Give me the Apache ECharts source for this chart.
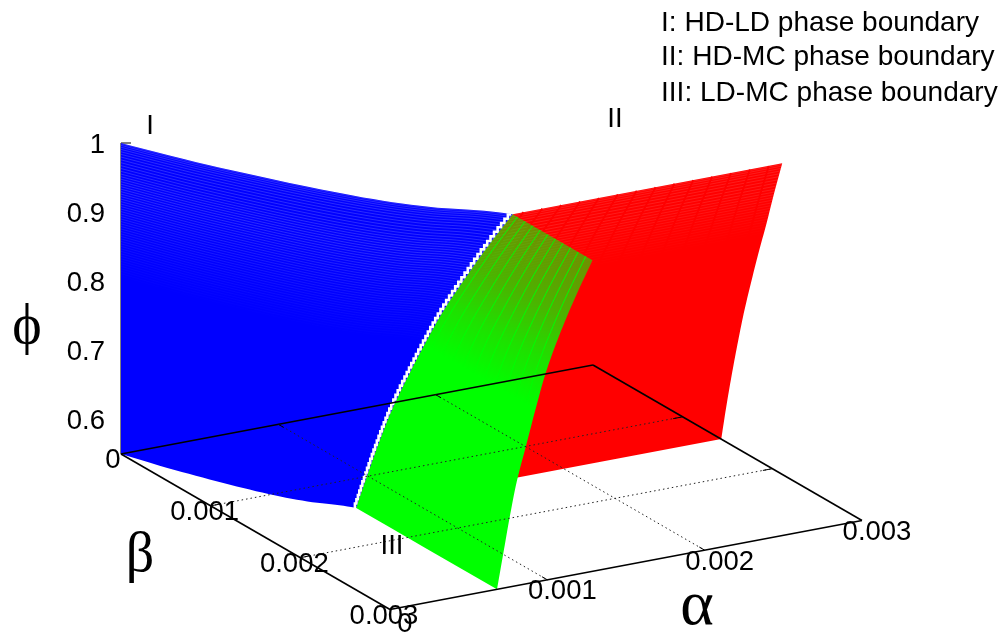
<!DOCTYPE html>
<html>
<head>
<meta charset="utf-8">
<style>html,body{margin:0;padding:0;background:#fff}#chart{width:1006px;height:639px}</style>
<script src="https://cdn.jsdelivr.net/npm/echarts@6/dist/echarts.min.js"></script>
</head>
<body>
<div id="chart"></div>
<script>
// ---- values ----
const alphaTicks = [0, 0.001, 0.002, 0.003];
const betaTicks = [0, 0.001, 0.002, 0.003];
const phiTicks = [0.6, 0.7, 0.8, 0.9, 1];
const phiLevels = [0.55, 0.6, 0.65, 0.7, 0.75, 0.8, 0.85, 0.9, 0.95, 1];
// triple line: where the three boundaries meet, at each phi level
const tripleAlpha = [0.00068, 0.00072, 0.00076, 0.000805, 0.000865, 0.000925, 0.00099, 0.001075, 0.001175, 0.001287];
const tripleBeta = [0.00143, 0.001485, 0.001545, 0.00161, 0.00168, 0.00176, 0.001845, 0.001935, 0.00202, 0.00211];
// shape of the HD-LD boundary as a share of the way from the origin to the triple line
const boundaryShareAlpha = [0, 0.15, 0.3, 0.45, 0.6, 0.75, 0.9, 1];
const boundaryShareBeta = [0, 0.22, 0.41, 0.585, 0.735, 0.85, 0.93, 1];
const legendLines = ['I: HD-LD phase boundary', 'II: HD-MC phase boundary', 'III: LD-MC phase boundary'];

// ---- orthographic view of the box ----
const ALPHA_MAX = 0.003, BETA_MAX = 0.003, PHI_MIN = 0.55, PHI_MAX = 1;
const ORIGIN = [121, 454];
const AX = [472, -89], BX = [269, 155.5], ZY = -311;
function project(a, b, p) {
  const u = a / ALPHA_MAX, v = b / BETA_MAX, w = (p - PHI_MIN) / (PHI_MAX - PHI_MIN);
  return [ORIGIN[0] + AX[0] * u + BX[0] * v, ORIGIN[1] + AX[1] * u + BX[1] * v + ZY * w];
}
// level: fractional index into an array; smooth reading between the read values
function at(arr, level) {
  const n = arr.length - 1, i = Math.min(Math.floor(level), n - 1), f = level - i;
  const p0 = arr[Math.max(i - 1, 0)], p1 = arr[i], p2 = arr[i + 1], p3 = arr[Math.min(i + 2, n)];
  return 0.5 * (2 * p1 + (p2 - p0) * f + (2 * p0 - 5 * p1 + 4 * p2 - p3) * f * f + (3 * p1 - p0 - 3 * p2 + p3) * f * f * f);
}
function pointBlue(level, t) {
  const l = t * (boundaryShareAlpha.length - 1);
  return [at(tripleAlpha, level) * at(boundaryShareAlpha, l), at(tripleBeta, level) * at(boundaryShareBeta, l), at(phiLevels, level)];
}
function pointRed(level, t) {
  const a = at(tripleAlpha, level);
  return [a + (ALPHA_MAX - a) * t, at(tripleBeta, level), at(phiLevels, level)];
}
function pointGreen(level, t) {
  const b = at(tripleBeta, level);
  return [at(tripleAlpha, level), b + (BETA_MAX - b) * t, at(phiLevels, level)];
}
const LAST = phiLevels.length - 1;
const LEVEL_STEP = 0.125;
function levelOfPhi(p) {
  for (let i = 0; i < LAST; i++) if (p <= phiLevels[i + 1]) return i + (p - phiLevels[i]) / (phiLevels[i + 1] - phiLevels[i]);
  return LAST;
}
function toCoord(api, p) { return api.coord(project(p[0], p[1], p[2])); }

function outline(api, fn, tSteps) {
  const pts = [];
  for (let l = 0; l <= LAST; l += LEVEL_STEP) pts.push(toCoord(api, fn(l, 0)));
  for (let k = 1; k <= tSteps; k++) pts.push(toCoord(api, fn(LAST, k / tSteps)));
  for (let l = LAST - LEVEL_STEP; l >= 0; l -= LEVEL_STEP) pts.push(toCoord(api, fn(l, 1)));
  for (let k = tSteps - 1; k >= 1; k--) pts.push(toCoord(api, fn(0, k / tSteps)));
  return pts;
}
function isoPhi(api, fn, level, tSteps) {
  const pts = [];
  for (let k = 0; k <= tSteps; k++) pts.push(toCoord(api, fn(level, k / tSteps)));
  return pts;
}
function isoT(api, fn, t, fromLevel) {
  const pts = [];
  for (let l = fromLevel; l < LAST; l += LEVEL_STEP) pts.push(toCoord(api, fn(l, t)));
  pts.push(toCoord(api, fn(LAST, t)));
  return pts;
}
function hatch(api, fn, tSteps, color, startPhi, maxOpacity, phiStep) {
  const out = [];
  for (let p = startPhi; p < 1; p += phiStep) {
    const o = maxOpacity * Math.min(1, (p - startPhi) / (1 - startPhi) * 1.5);
    out.push({ type: 'polyline', shape: { points: isoPhi(api, fn, levelOfPhi(p), tSteps) },
      style: { fill: null, stroke: color, lineWidth: 1, opacity: o }, silent: true });
  }
  return out;
}
// ---- surfaces ----
function renderRed(params, api) {
  const kids = [{ type: 'polygon', shape: { points: outline(api, pointRed, 4) }, style: { fill: '#ff0000' } }];
  kids.push(...hatch(api, pointRed, 4, '#ffffff', 0.88, 0.11, 0.0045));
  for (let t = 0.04; t < 1; t += 0.07) {
    kids.push({ type: 'polyline', shape: { points: isoT(api, pointRed, t, levelOfPhi(0.87)) },
      style: { fill: null, stroke: '#ff0000', lineWidth: 1.8 } });
  }
  return { type: 'group', children: kids };
}
function renderGreen(params, api) {
  const s = toCoord(api, pointGreen(levelOfPhi(0.8), 0));
  const e = toCoord(api, pointGreen(LAST, 0));
  // gradient runs across the lines of constant phi
  const d = [BX[1], -BX[0]], len = Math.hypot(d[0], d[1]);
  const proj = ((e[0] - s[0]) * d[0] + (e[1] - s[1]) * d[1]) / (len * len);
  const end = [s[0] + d[0] * proj, s[1] + d[1] * proj];
  const fill = new echarts.graphic.LinearGradient(s[0], s[1], end[0], end[1], [
    { offset: 0, color: 'rgba(0,255,0,1)' },
    { offset: 0.3, color: 'rgba(0,255,0,0.88)' },
    { offset: 0.6, color: 'rgba(0,255,0,0.7)' },
    { offset: 1, color: 'rgba(0,255,0,0.56)' }
  ], true);
  const kids = [{ type: 'polygon', shape: { points: outline(api, pointGreen, 4) }, style: { fill: fill } }];
  for (let t = 0.06; t < 1; t += 0.095) {
    kids.push({ type: 'polyline', shape: { points: isoT(api, pointGreen, t, levelOfPhi(0.8)) },
      style: { fill: null, stroke: '#00ff00', lineWidth: 1 } });
  }
  return { type: 'group', children: kids };
}
function renderBlue(params, api) {
  const kids = [{ type: 'polygon', shape: { points: outline(api, pointBlue, 40) }, style: { fill: '#0000ff' } }];
  kids.push(...hatch(api, pointBlue, 40, '#ffffff', 0.8, 0.17, 0.0036));
  // white stepped seam along the triple line
  const seam = [];
  let prev = null;
  for (let l = 0; l <= LAST; l += 0.02) {
    const c = toCoord(api, pointBlue(l, 1));
    if (!prev) { seam.push([c[0] - 1.3, c[1]]); prev = c; continue; }
    if (prev[1] - c[1] >= 4) {
      seam.push([prev[0] - 1.3, c[1]]);
      seam.push([c[0] - 1.3, c[1]]);
      prev = c;
    }
  }
  kids.push({ type: 'polyline', shape: { points: seam }, style: { fill: null, stroke: '#ffffff', lineWidth: 2.6 } });
  return { type: 'group', children: kids };
}
function renderSegment(params, api) {
  const a = api.coord([api.value(0), api.value(1)]), b = api.coord([api.value(2), api.value(3)]);
  const kind = api.value(4);
  return { type: 'line', shape: { x1: a[0], y1: a[1], x2: b[0], y2: b[1] },
    style: kind === 0 ? { stroke: '#000', lineWidth: 1.6 }
      : kind === 1 ? { stroke: '#222', lineWidth: 1, lineDash: [1.5, 3] }
      : { stroke: '#000', lineWidth: 1 } };
}
// ---- box lines, grid, ticks ----
function seg(p, q, kind) { const a = project(...p), b = project(...q); return [a[0], a[1], b[0], b[1], kind]; }
const TICK = 0.02;
const segments = [
  seg([0, 0, PHI_MIN], [ALPHA_MAX, 0, PHI_MIN], 0),
  seg([ALPHA_MAX, 0, PHI_MIN], [ALPHA_MAX, BETA_MAX, PHI_MIN], 0),
  seg([ALPHA_MAX, BETA_MAX, PHI_MIN], [0, BETA_MAX, PHI_MIN], 0),
  seg([0, BETA_MAX, PHI_MIN], [0, 0, PHI_MIN], 0)
];
alphaTicks.slice(1, 3).forEach(a => {
  segments.push(seg([a, 0, PHI_MIN], [a, BETA_MAX, PHI_MIN], 1));
  segments.push(seg([a, 0, PHI_MIN], [a, BETA_MAX * TICK, PHI_MIN], 2));
  segments.push(seg([a, BETA_MAX, PHI_MIN], [a, BETA_MAX * (1 - TICK), PHI_MIN], 2));
});
betaTicks.slice(1, 3).forEach(b => {
  segments.push(seg([0, b, PHI_MIN], [ALPHA_MAX, b, PHI_MIN], 1));
  segments.push(seg([0, b, PHI_MIN], [ALPHA_MAX * TICK, b, PHI_MIN], 2));
  segments.push(seg([ALPHA_MAX, b, PHI_MIN], [ALPHA_MAX * (1 - TICK), b, PHI_MIN], 2));
});
const zLine = [seg([0, 0, PHI_MIN], [0, 0, PHI_MAX], 2), seg([0, 0, PHI_MAX], [ALPHA_MAX * 0.02, 0, PHI_MAX], 2)];
// the phi=1 tick runs flat in the picture
zLine[1][2] = zLine[1][0] + 10; zLine[1][3] = zLine[1][1];

// ---- tick labels: [x, y, text, dx, dy, align] ----
const tickLabels = [];
phiTicks.forEach(p => {
  const c = project(0, 0, p);
  tickLabels.push([c[0], c[1], String(p), -16, 2, 'right']);
});
alphaTicks.forEach(a => {
  const c = project(a, BETA_MAX, PHI_MIN);
  tickLabels.push([c[0], c[1], String(a), 15, a === 0 ? 15 : 12, 'center']);
});
betaTicks.forEach(b => {
  const c = project(0, b, PHI_MIN);
  tickLabels.push([c[0], c[1], String(b), b === 0 ? -8 : -6, b === 0 ? 6 : 6.5, 'center']);
});
function renderLabel(params, api) {
  const d = tickLabels[params.dataIndex];
  const c = api.coord([d[0], d[1]]);
  return { type: 'text', x: c[0] + d[3], y: c[1] + d[4],
    style: { text: d[2], fill: '#000', font: '27.5px "Liberation Sans", Arial, sans-serif', textAlign: d[5], textVerticalAlign: 'middle' } };
}
function txt(x, y, s, font, align) {
  return { type: 'text', x: x, y: y, z: 20,
    style: { text: s, fill: '#000', font: font, textAlign: align || 'left', textVerticalAlign: 'middle' } };
}
const SANS = '28.05px "Liberation Sans", Arial, sans-serif';
const LBL = '27.5px "Liberation Sans", Arial, sans-serif';
const GREEK = '56px "Liberation Serif", "DejaVu Serif", serif';
const ALPHA_FONT = '64px "Liberation Serif", "DejaVu Serif", serif';
const chart = echarts.init(document.getElementById('chart'), null, { renderer: 'canvas' });
const one = [[0, 0]];
chart.setOption({
  animation: false,
  backgroundColor: '#ffffff',
  grid: { left: 0, right: 0, top: 0, bottom: 0 },
  xAxis: { type: 'value', min: 0, max: 1006, show: false },
  yAxis: { type: 'value', min: 0, max: 639, inverse: true, show: false },
  tooltip: { show: false },
  graphic: [
    txt(661, 23, legendLines[0], SANS), txt(661, 57, legendLines[1], SANS), txt(661, 93, legendLines[2], SANS),
    txt(150, 126, 'I', LBL, 'center'), txt(615, 119, 'II', LBL, 'center'), txt(392, 546, 'III', LBL, 'center'),
    txt(27, 328, 'ϕ', GREEK, 'center'), txt(140, 556, 'β', GREEK, 'center'), txt(697, 607, 'α', ALPHA_FONT, 'center')
  ],
  series: [
    { type: 'custom', coordinateSystem: 'cartesian2d', silent: true, clip: false, z: 1, data: zLine, renderItem: renderSegment },
    { type: 'custom', coordinateSystem: 'cartesian2d', silent: true, clip: false, z: 2, data: one, renderItem: renderRed },
    { type: 'custom', coordinateSystem: 'cartesian2d', silent: true, clip: false, z: 3, data: one, renderItem: renderBlue },
    { type: 'custom', coordinateSystem: 'cartesian2d', silent: true, clip: false, z: 4, data: one, renderItem: renderGreen },
    { type: 'custom', coordinateSystem: 'cartesian2d', silent: true, clip: false, z: 5, data: segments, renderItem: renderSegment },
    { type: 'custom', coordinateSystem: 'cartesian2d', silent: true, clip: false, z: 6, data: tickLabels.map(d => [d[0], d[1]]), renderItem: renderLabel }
  ]
});
</script>
</body>
</html>
